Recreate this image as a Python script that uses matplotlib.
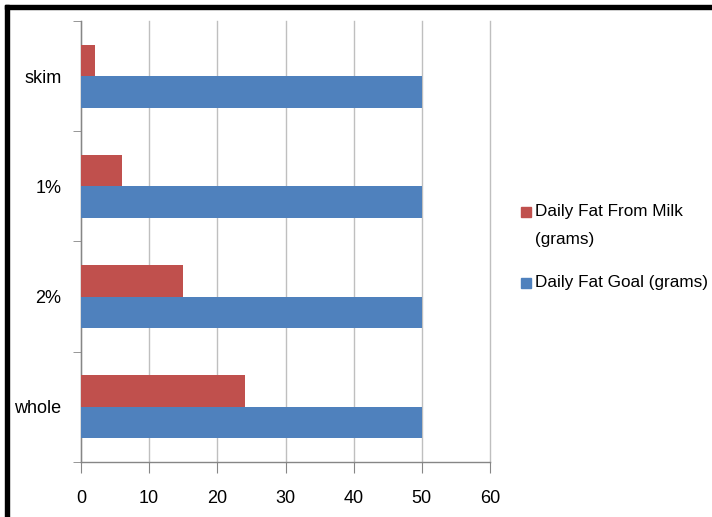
import numpy as np
import matplotlib.pyplot as plt
from matplotlib.patches import Rectangle

# milk types, bottom to top
milk = ["whole", "2%", "1%", "skim"]
fat_from_milk = [24, 15, 6, 2]
fat_goal = [50, 50, 50, 50]
x_ticks = [0, 10, 20, 30, 40, 50, 60]
series_names = ["Daily Fat From Milk\n(grams)", "Daily Fat Goal (grams)"]

red = "#C0504D"
blue = "#4F81BD"
grid_gray = "#BFBFBF"
axis_gray = "#868686"

plt.rcParams['font.family'] = ['Liberation Sans', 'DejaVu Sans']

W, H = 712, 517
fig = plt.figure(figsize=(W / 100, H / 100), dpi=100)
ax = fig.add_axes([81 / W, 1 - 462 / H, 409 / W, 441 / H])

y = np.arange(len(milk))
h = 0.285
ax.barh(y + h / 2, fat_from_milk, height=h, color=red, zorder=3)
ax.barh(y - h / 2, fat_goal, height=h, color=blue, zorder=3)

ax.set_xlim(0, 60)
ax.set_ylim(-0.5, len(milk) - 0.5)
ax.set_xticks(x_ticks)
ax.set_xticklabels([str(v) for v in x_ticks], fontsize=13)
ax.set_yticks(y)
ax.set_yticklabels(milk, fontsize=13)

ax.grid(axis="x", color=grid_gray, linewidth=1, zorder=0)
for line in ax.get_xgridlines():
    line.set_clip_on(False)
for side in ["top", "right"]:
    ax.spines[side].set_visible(False)
for side in ["left", "bottom"]:
    ax.spines[side].set_color(axis_gray)
    ax.spines[side].set_linewidth(1)

ax.tick_params(axis="x", length=8, color=axis_gray, pad=12)
ax.tick_params(axis="y", length=0, pad=14)
# category separator ticks on the left axis
ax.set_yticks(np.arange(-0.5, len(milk), 1.0), minor=True)
ax.tick_params(axis="y", which="minor", length=6, color=axis_gray)

# legend, drawn by hand so the swatch sits on the first text line
legend_rows = [(212, red, series_names[0]), (283, blue, series_names[1])]
for yc, col, name in legend_rows:
    fig.add_artist(Rectangle((521 / W, 1 - (yc + 5) / H), 10 / W, 10 / H,
                             transform=fig.transFigure, color=col))
    fig.text(535 / W, 1 - (yc - 8) / H, name, fontsize=12.3, va="top",
             ha="left", linespacing=2.1)

# outer frame along the top and left edges
fig.add_artist(Rectangle((5 / W, 0), 4 / W, 1 - 5 / H,
                         transform=fig.transFigure, color="black"))
fig.add_artist(Rectangle((5 / W, 1 - 9 / H), 1, 4 / H,
                         transform=fig.transFigure, color="black"))

fig.savefig("out.png", dpi=100)
